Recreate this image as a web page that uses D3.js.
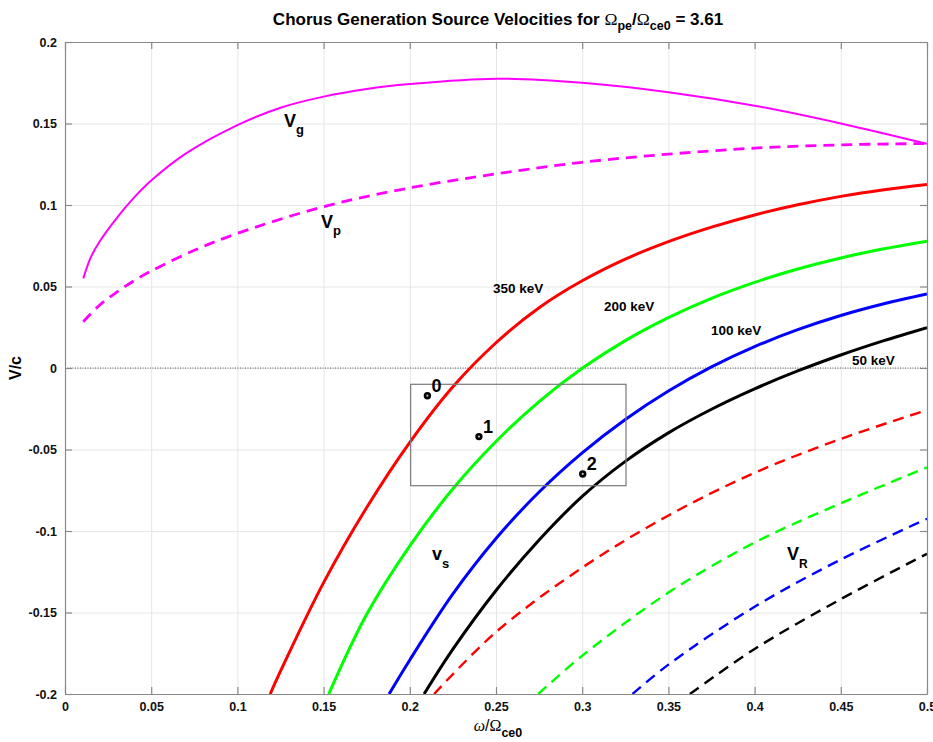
<!DOCTYPE html>
<html>
<head>
<meta charset="utf-8">
<script src="https://cdn.jsdelivr.net/npm/d3@7"></script>
<style>
  html, body { margin: 0; padding: 0; background: #fff; }
  svg { display: block; font-family: "Liberation Sans", Arial, Helvetica, sans-serif; }
</style>
</head>
<body>
<svg id="chart" width="933" height="742"></svg>
<script>
// ---- axis ticks ----
const xTicks = [0, 0.05, 0.1, 0.15, 0.2, 0.25, 0.3, 0.35, 0.4, 0.45, 0.5];
const yTicks = [-0.2, -0.15, -0.1, -0.05, 0, 0.05, 0.1, 0.15, 0.2];

// ---- group velocity V_g and phase velocity V_p ----
const vgOmega = [0.0106, 0.015, 0.02, 0.03, 0.04, 0.05, 0.07, 0.1, 0.125, 0.15, 0.175, 0.2, 0.25, 0.3, 0.35, 0.4, 0.45, 0.5];
const vgVel   = [0.055, 0.068, 0.0775, 0.092, 0.1045, 0.115, 0.1315, 0.149, 0.1597, 0.1665, 0.1712, 0.1742, 0.1775, 0.175, 0.1692, 0.1609, 0.150, 0.1375];
const vpOmega = [0.0106, 0.02, 0.03, 0.04, 0.05, 0.075, 0.1, 0.15, 0.2, 0.25, 0.3, 0.35, 0.4, 0.45, 0.5];
const vpVel   = [0.0284, 0.0385, 0.0465, 0.0535, 0.0595, 0.0722, 0.0826, 0.099, 0.1105, 0.1191, 0.1262, 0.1312, 0.1349, 0.1369, 0.1377];

// ---- source velocity V_s per electron energy ----
const energies = ["350 keV", "200 keV", "100 keV", "50 keV"];
const vs350Omega = [0.119, 0.125, 0.15, 0.175, 0.2, 0.225, 0.25, 0.275, 0.3, 0.325, 0.35, 0.375, 0.4, 0.425, 0.45, 0.475, 0.5];
const vs350      = [-0.2, -0.186, -0.1317, -0.0856, -0.0456, -0.0115, 0.0155, 0.037, 0.0535, 0.0668, 0.0775, 0.0864, 0.0939, 0.1001, 0.1053, 0.1094, 0.1126];
const vs200Omega = [0.153, 0.175, 0.2, 0.225, 0.25, 0.275, 0.3, 0.325, 0.35, 0.375, 0.4, 0.425, 0.45, 0.475, 0.5];
const vs200      = [-0.2, -0.1511, -0.1091, -0.0741, -0.0451, -0.0206, -0.0002, 0.0168, 0.0309, 0.0427, 0.0525, 0.0607, 0.0675, 0.0731, 0.0778];
const vs100Omega = [0.188, 0.2, 0.225, 0.25, 0.275, 0.3, 0.325, 0.35, 0.375, 0.4, 0.425, 0.45, 0.475, 0.5];
const vs100      = [-0.2, -0.1791, -0.1386, -0.1046, -0.0761, -0.0521, -0.0316, -0.0141, 0.0007, 0.0131, 0.0235, 0.0322, 0.0394, 0.0454];
const vs50Omega  = [0.2083, 0.225, 0.25, 0.275, 0.3, 0.325, 0.35, 0.375, 0.4, 0.425, 0.45, 0.475, 0.5];
const vs50       = [-0.2, -0.1725, -0.1365, -0.1055, -0.0788, -0.0573, -0.0398, -0.0253, -0.0128, -0.0018, 0.008, 0.0168, 0.0248];

// ---- resonance velocity V_R per electron energy ----
const vr350Omega = [0.2141, 0.25, 0.3, 0.35, 0.4, 0.45, 0.5];
const vr350      = [-0.2, -0.162, -0.1225, -0.0905, -0.0643, -0.0435, -0.0258];
const vr200Omega = [0.2745, 0.3, 0.35, 0.4, 0.45, 0.5];
const vr200      = [-0.2, -0.1765, -0.1378, -0.1071, -0.083, -0.061];
const vr100Omega = [0.3292, 0.35, 0.4, 0.45, 0.5];
const vr100      = [-0.2, -0.182, -0.1465, -0.1175, -0.0925];
const vr50Omega  = [0.3625, 0.4, 0.45, 0.5];
const vr50       = [-0.2, -0.1724, -0.1418, -0.114];

// ---- marked source points and the region around them ----
const pointLabels = ["0", "1", "2"];
const pointOmega  = [0.2102, 0.2401, 0.3003];
const pointVel    = [-0.017, -0.0421, -0.065];
const boxOmega = [0.2005, 0.3254];
const boxVel   = [-0.0722, -0.01];

// ---- layout ----
const plot = { left: 65, right: 927, top: 42, bottom: 694 };
const svg = d3.select("#chart");

const x = d3.scaleLinear().domain([0, 0.5]).range([plot.left, plot.right]);
const y = d3.scaleLinear().domain([-0.2, 0.2]).range([plot.bottom, plot.top]);

const fmt = v => String(v);
const pw = plot.right - plot.left, ph = plot.bottom - plot.top;

// grid
svg.append("g").attr("transform", `translate(0,${plot.bottom})`)
  .call(d3.axisBottom(x).tickValues(xTicks).tickSize(-ph).tickFormat(""))
  .call(g => g.select(".domain").remove())
  .call(g => g.selectAll("line").attr("stroke", "#e6e6e6").attr("stroke-width", 1));
svg.append("g").attr("transform", `translate(${plot.left},0)`)
  .call(d3.axisLeft(y).tickValues(yTicks).tickSize(-pw).tickFormat(""))
  .call(g => g.select(".domain").remove())
  .call(g => g.selectAll("line").attr("stroke", "#e6e6e6").attr("stroke-width", 1));

// clip region for curves
svg.append("clipPath").attr("id", "plotClip").append("rect")
  .attr("x", plot.left).attr("y", plot.top).attr("width", pw).attr("height", ph);

// zero reference line
svg.append("line")
  .attr("x1", x(0)).attr("x2", x(0.5)).attr("y1", y(0)).attr("y2", y(0))
  .attr("stroke", "#333").attr("stroke-width", 0.8).attr("stroke-dasharray", "1,1.5");

const line = d3.line().x(d => x(d[0])).y(d => y(d[1])).curve(d3.curveCatmullRom.alpha(0.5));
const zip = (a, b) => a.map((v, i) => [v, b[i]]);
const curves = svg.append("g").attr("clip-path", "url(#plotClip)").attr("fill", "none");

function drawCurve(xs, ys, color, width, dash) {
  const p = curves.append("path").datum(zip(xs, ys))
    .attr("d", line).attr("stroke", color).attr("stroke-width", width)
    .attr("stroke-linejoin", "round");
  if (dash) p.attr("stroke-dasharray", dash);
}

drawCurve(vgOmega, vgVel, "#ff00ff", 2, null);
drawCurve(vpOmega, vpVel, "#ff00ff", 2.8, "11,7");

const vsSets = [[vs350Omega, vs350], [vs200Omega, vs200], [vs100Omega, vs100], [vs50Omega, vs50]];
const vrSets = [[vr350Omega, vr350], [vr200Omega, vr200], [vr100Omega, vr100], [vr50Omega, vr50]];
const energyColors = ["#ff0000", "#00ff00", "#0000ff", "#000000"];
vrSets.forEach((s, i) => drawCurve(s[0], s[1], energyColors[i], 2.4, "11,7"));
vsSets.forEach((s, i) => drawCurve(s[0], s[1], energyColors[i], 3, null));

// rectangle around the source points
svg.append("rect")
  .attr("x", x(boxOmega[0])).attr("y", y(boxVel[1]))
  .attr("width", x(boxOmega[1]) - x(boxOmega[0]))
  .attr("height", y(boxVel[0]) - y(boxVel[1]))
  .attr("fill", "none").attr("stroke", "#7a7a7a").attr("stroke-width", 1.2);

// source points
const pts = pointLabels.map((l, i) => ({ l, w: pointOmega[i], v: pointVel[i] }));
svg.append("g").selectAll("circle").data(pts).join("circle")
  .attr("cx", d => x(d.w)).attr("cy", d => y(d.v)).attr("r", 2.4)
  .attr("fill", "#bbb").attr("stroke", "#000").attr("stroke-width", 2.6);
svg.append("g").selectAll("text").data(pts).join("text")
  .attr("x", d => x(d.w) + 4).attr("y", d => y(d.v) - 4)
  .attr("font-size", 18).attr("font-weight", "bold").text(d => d.l);

// axes (box with inward ticks)
function styleAxis(g) {
  g.select(".domain").attr("stroke", "#8a8a8a").attr("stroke-width", 1.2);
  g.selectAll(".tick line").attr("stroke", "#8a8a8a").attr("stroke-width", 1.2);
  g.selectAll("text").attr("font-size", 12.5).attr("font-weight", "bold").attr("fill", "#111")
    .attr("font-family", "Liberation Sans, Arial, sans-serif");
}
svg.append("g").attr("transform", `translate(0,${plot.bottom})`)
  .call(d3.axisBottom(x).tickValues(xTicks).tickSizeInner(-7).tickSizeOuter(0).tickPadding(8).tickFormat(fmt))
  .call(styleAxis);
svg.append("g").attr("transform", `translate(0,${plot.top})`)
  .call(d3.axisTop(x).tickValues(xTicks).tickSizeInner(-7).tickSizeOuter(0).tickFormat(""))
  .call(styleAxis);
svg.append("g").attr("transform", `translate(${plot.left},0)`)
  .call(d3.axisLeft(y).tickValues(yTicks).tickSizeInner(-7).tickSizeOuter(0).tickPadding(8).tickFormat(fmt))
  .call(styleAxis);
svg.append("g").attr("transform", `translate(${plot.right},0)`)
  .call(d3.axisRight(y).tickValues(yTicks).tickSizeInner(-7).tickSizeOuter(0).tickFormat(""))
  .call(styleAxis);

// curve labels
function subLabel(px, py, main, sub, size, subSize, subDy) {
  const t = svg.append("text").attr("x", px).attr("y", py)
    .attr("font-weight", "bold").attr("font-size", size).attr("fill", "#000");
  t.append("tspan").text(main);
  t.append("tspan").attr("dy", subDy).attr("font-size", subSize).text(sub);
}
subLabel(284, 127, "V", "g", 18, 13, 7);
subLabel(321, 228, "V", "p", 18, 13, 7);
subLabel(432, 560, "v", "s", 18, 13, 8);
subLabel(787, 560, "V", "R", 18, 12, 8);

const energyLabelPos = [[493, 293], [604, 311], [711, 335], [852, 365]];
energies.forEach((e, i) => {
  svg.append("text").attr("x", energyLabelPos[i][0]).attr("y", energyLabelPos[i][1])
    .attr("font-size", 13.5).attr("font-weight", "bold").text(e);
});

// title
const title = svg.append("text").attr("x", 498).attr("y", 25).attr("text-anchor", "middle")
  .attr("font-size", 17).attr("font-weight", "bold");
title.append("tspan").text("Chorus Generation Source Velocities for ");
title.append("tspan").attr("font-weight", "normal").attr("font-family", "Liberation Serif, serif").attr("font-size", 17.5).text("Ω");
title.append("tspan").attr("dy", 5).attr("font-size", 12.5).text("pe");
title.append("tspan").attr("dy", -5).text("/");
title.append("tspan").attr("font-weight", "normal").attr("font-family", "Liberation Serif, serif").attr("font-size", 17.5).text("Ω");
title.append("tspan").attr("dy", 5).attr("font-size", 12.5).text("ce0");
title.append("tspan").attr("dy", -5).text(" = 3.61");

// x axis label
const xl = svg.append("text").attr("x", 498).attr("y", 731).attr("text-anchor", "middle").attr("font-size", 16);
xl.append("tspan").attr("font-style", "italic").attr("font-family", "Liberation Serif, serif").text("ω");
xl.append("tspan").text("/");
xl.append("tspan").attr("font-family", "Liberation Serif, serif").text("Ω");
xl.append("tspan").attr("dy", 6).attr("font-size", 12.5).attr("font-weight", "bold").text("ce0");

// y axis label
svg.append("text").attr("transform", `translate(21,${y(0)}) rotate(-90)`)
  .attr("text-anchor", "middle").attr("font-size", 16).attr("font-weight", "bold").text("V/c");
</script>
</body>
</html>
